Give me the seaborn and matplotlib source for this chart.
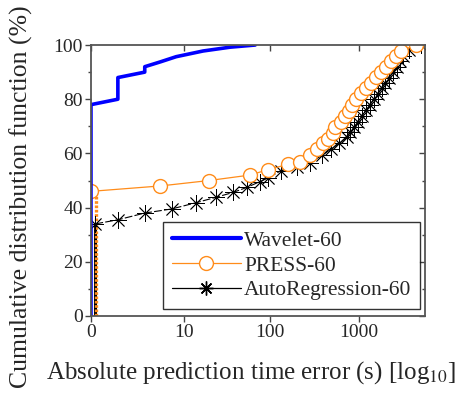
import numpy as np
import pandas as pd
import seaborn as sns
import matplotlib.pyplot as plt
from matplotlib.lines import Line2D
from matplotlib.ticker import MultipleLocator

sns.set_style('ticks')
plt.rcParams['font.family'] = ['Liberation Serif', 'DejaVu Serif']
plt.rcParams['mathtext.fontset'] = 'stix'

# Absolute prediction time error (s) vs CDF (%)
wavelet_x = [0, 0, 1, 1, 3, 3, 5, 8, 17, 35, 68]
wavelet_y = [0, 78, 80, 88, 90, 92, 93.8, 95.7, 97.8, 99.2, 100]

# near-zero stacks (drawn as vertical runs)
press_zero_x = [0.15, 0.15]
press_zero_y = [0, 46]
ar_zero_x = [0.12, 0.12]
ar_zero_y = [0, 34]

press_x = [0, 5, 20, 59, 95, 160, 220, 285, 337, 391, 445, 506, 545, 628, 700,
           770, 830, 924, 1052, 1198, 1364, 1552, 1767, 2011, 2289, 2605, 2965, 4370]
press_y = [46, 48, 50, 52, 54, 56, 57, 59.6, 61.5, 63.7, 65.5, 67.6, 69.7, 71.7, 73.8,
           75.6, 77.9, 80, 82.2, 84, 86.1, 88.1, 90.1, 92, 94.1, 95.9, 97.9, 100]

ar_x = [0.12, 1, 3, 7, 14, 24, 38, 55, 77, 96, 132, 200, 283, 390, 483, 600, 732, 800,
        879, 975, 1080, 1200, 1330, 1460, 1620, 1790, 1980, 2180, 2400, 2640, 2850,
        3150, 3650, 4900]
ar_y = [34, 35.5, 38, 39.5, 41.8, 43.8, 45.6, 47.5, 49.6, 51, 53.6, 55, 56.6, 59.4, 61.5,
        63.7, 65.9, 67.8, 69.6, 71.7, 73.8, 75.9, 78, 80, 82, 84, 86, 88, 90, 92, 94,
        96, 98, 100]

x_ticks = [0, 10, 100, 1000]
x_ticklabels = ['0', '10', '100', '1000']

blue = '#0000ff'
orange = '#ff8c1a'

fig = plt.figure(figsize=(4.63, 3.95), dpi=100)
ax = fig.add_axes([0.1965, 0.2, 0.7215, 0.686])

ax.set_xscale('function', functions=(lambda v: np.log10(np.clip(v, 0, None) + 1),
                                     lambda v: 10 ** v - 1))

sns.lineplot(x=ar_zero_x, y=ar_zero_y, ax=ax, color='black', lw=2.2,
             estimator=None, sort=False, dashes=False)
sns.lineplot(x=press_zero_x, y=press_zero_y, ax=ax, color=orange, lw=2.4,
             estimator=None, sort=False, dashes=False)
ax.lines[-1].set_dashes([0.8, 0.5])

sns.lineplot(x=ar_x, y=ar_y, ax=ax, color='black', lw=0.8, estimator=None, sort=False,
             marker=(8, 2, 0), markersize=12, markeredgewidth=0.6, markeredgecolor='black')
ax.lines[-1].set_dashes([7, 2])
sns.lineplot(x=press_x, y=press_y, ax=ax, color=orange, lw=0.9, estimator=None, sort=False,
             marker='o', markersize=10, markerfacecolor='white',
             markeredgecolor=orange, markeredgewidth=1.0)
sns.lineplot(x=wavelet_x, y=wavelet_y, ax=ax, color=blue, lw=2.6, estimator=None, sort=False)

ax.set_xlim(0, 5500)
ax.set_ylim(0, 100)
ax.set_xticks(x_ticks)
ax.set_xticklabels(x_ticklabels)
ax.xaxis.set_minor_locator(plt.NullLocator())
ax.yaxis.set_major_locator(MultipleLocator(20))
ax.yaxis.set_minor_locator(MultipleLocator(10))

ax.tick_params(axis='both', which='major', labelsize=14, length=4, width=1, color='#444444', pad=2)
ax.tick_params(axis='y', which='minor', length=2, width=1, color='#444444')
ax.tick_params(top=True, right=True, which='both')
for t in ax.xaxis.get_major_ticks():
    t.tick2line.set_marker(3)
for t in ax.yaxis.get_major_ticks() + ax.yaxis.get_minor_ticks():
    t.tick2line.set_marker(0)
for sp in ax.spines.values():
    sp.set_visible(True)
    sp.set_color('#555555')
    sp.set_linewidth(1.3)

ax.set_xlabel('Absolute prediction time error (s) [log$_{10}$]', fontsize=18)
ax.set_ylabel('Cumulative distribution function (%)', fontsize=18.5)
ax.xaxis.set_label_coords(0.48, -0.16)
ax.yaxis.set_label_coords(-0.175, 0.44)

handles = [
    Line2D([], [], color=blue, lw=3),
    Line2D([], [], color=orange, lw=0.9, marker='o', markersize=10,
           markerfacecolor='white', markeredgecolor=orange),
    Line2D([], [], color='black', lw=0.9, marker=(8, 2, 0), markersize=10),
]
leg = ax.legend(handles, ['Wavelet-60', 'PRESS-60', 'AutoRegression-60'],
                loc='lower right', bbox_to_anchor=(0.985, 0.026), borderaxespad=0,
                fontsize=15.5, frameon=True, fancybox=False, handlelength=3.2,
                labelspacing=0.22, borderpad=0.4, handletextpad=0.15)
leg.get_frame().set_edgecolor('black')
leg.get_frame().set_linewidth(1.0)

fig.savefig('out.png', dpi=100)
